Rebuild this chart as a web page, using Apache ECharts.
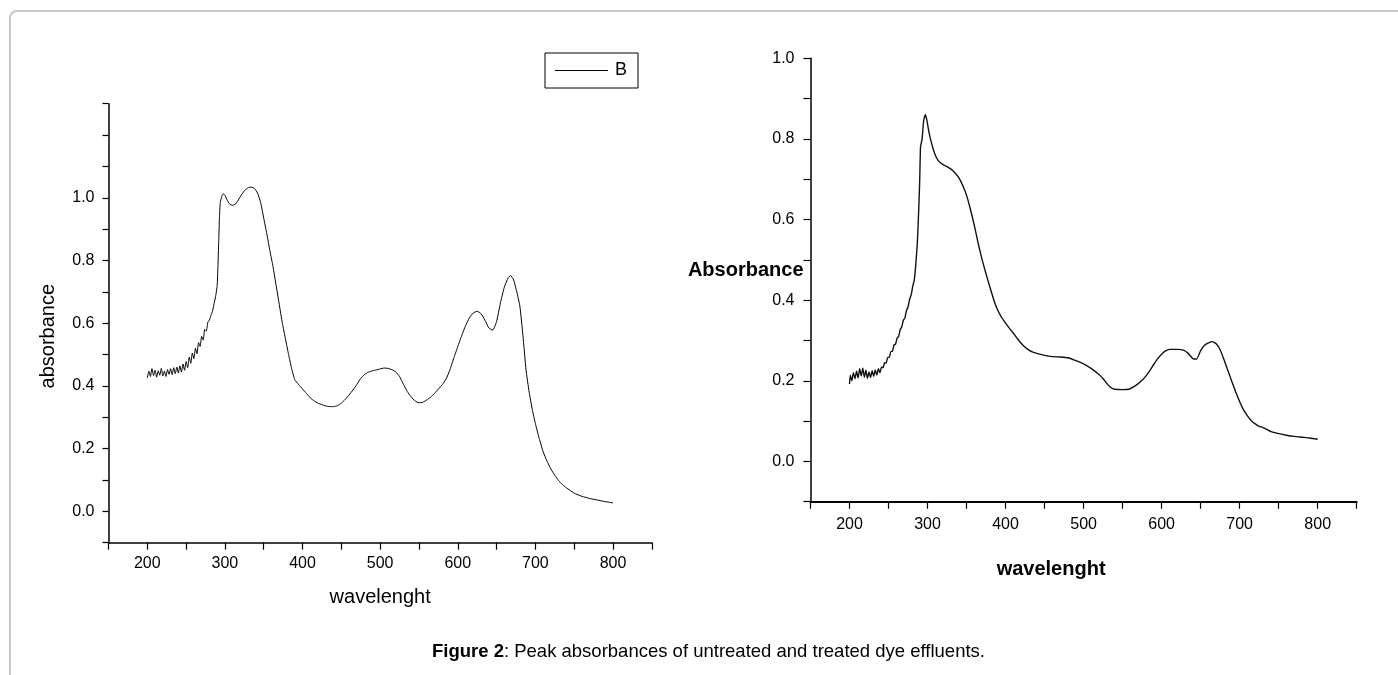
<!doctype html>
<html>
<head>
    <meta charset="utf-8">
    <title>Figure 2 - absorbance</title>
    <script src="https://cdn.jsdelivr.net/npm/echarts@6/dist/echarts.min.js"></script>
    <style>
        body { margin: 0; background: #fff; }
        #frame { position: absolute; left: 9px; top: 10px; width: 1500px; height: 800px;
                 border-left: 2px solid #c8c8c8; border-top: 2px solid #c8c8c8; border-top-left-radius: 8px; }
        #main { position: absolute; left: 0; top: 0; width: 1398px; height: 675px; }
    </style>
</head>
<body>
    <div id="frame"></div>
    <div id="main"></div>

    <script type="text/javascript">
        // untreated effluent (left panel, series "B")
        var waveB = [200,202,204,206,208,210,212,214,216,218,220,222,224,226,228,230,232,234,236,238,
            240,242,244,246,248,250,252,254,256,258,260,262,264,266,268,270,272,274,276,278,280,282,284,286,288,
            290,291,292,293,294,296,298,300,303,306,310,314,318,322,326,330,334,338,342,346,350,354,358,362,366,
            370,374,378,382,386,390,395,400,405,410,415,420,425,430,435,440,445,450,455,460,465,470,475,480,485,
            490,495,500,505,510,515,520,525,530,535,540,545,550,555,560,565,570,575,580,585,590,595,600,605,610,
            615,620,625,630,635,640,645,650,655,660,665,668,672,676,680,684,688,692,696,700,705,710,715,720,725,
            730,735,740,750,760,770,780,790,800];
        var absB = [0.425,0.447,0.430,0.455,0.433,0.450,0.428,0.448,0.434,0.456,0.432,0.447,0.430,0.452,0.437,0.455,0.436,0.458,0.439,0.460,
            0.441,0.464,0.444,0.470,0.450,0.478,0.458,0.492,0.472,0.505,0.487,0.520,0.503,0.538,0.526,0.558,0.546,0.580,0.575,0.603,0.610,0.625,0.638,0.662,0.685,
            0.720,0.780,0.860,0.940,0.985,1.005,1.013,1.008,0.992,0.980,0.976,0.981,0.996,1.012,1.025,1.032,1.034,1.030,1.015,0.985,0.935,0.885,0.830,0.780,0.720,
            0.660,0.600,0.550,0.500,0.455,0.420,0.404,0.390,0.376,0.362,0.352,0.345,0.340,0.336,0.334,0.334,0.337,0.345,0.357,0.371,0.387,0.405,0.424,0.437,0.444,
            0.448,0.451,0.454,0.457,0.456,0.452,0.445,0.430,0.405,0.382,0.365,0.352,0.346,0.348,0.355,0.364,0.376,0.390,0.404,0.422,0.452,0.490,0.525,0.560,0.592,
            0.617,0.633,0.638,0.630,0.610,0.585,0.578,0.605,0.665,0.715,0.745,0.752,0.738,0.700,0.655,0.560,0.450,0.380,0.325,0.280,0.232,0.190,0.160,0.135,0.115,
            0.098,0.085,0.075,0.058,0.048,0.041,0.036,0.031,0.027];

        // treated effluent (right panel)
        var waveT = [200,201,203,205,207,209,211,213,215,217,219,221,223,225,227,229,231,233,235,237,239,241,243,245,247,249,
            251,253,255,257,259,261,263,265,267,269,271,273,275,277,279,281,283,285,287,289,290,291,293,295,297,299,302,305,308,311,
            315,320,325,330,335,340,345,350,355,360,365,370,375,380,385,390,395,400,405,410,415,420,425,430,435,440,450,460,470,480,
            490,500,510,520,525,530,535,540,550,558,565,570,575,580,585,590,595,600,605,610,620,628,634,640,645,650,655,660,665,670,
            675,680,685,690,695,700,705,710,715,720,725,730,740,750,760,770,780,790,800];
        var absT = [0.192,0.214,0.200,0.220,0.205,0.224,0.207,0.230,0.212,0.231,0.209,0.226,0.206,0.222,0.208,0.225,0.211,0.227,0.214,0.230,0.220,0.234,0.232,0.245,0.244,0.258,
            0.258,0.273,0.273,0.289,0.291,0.306,0.310,0.327,0.334,0.350,0.356,0.374,0.383,0.402,0.413,0.434,0.450,0.490,0.545,0.640,0.700,0.780,0.800,0.845,0.860,0.848,0.815,0.790,0.770,0.755,
            0.743,0.736,0.731,0.725,0.716,0.704,0.685,0.660,0.625,0.585,0.540,0.500,0.465,0.432,0.400,0.375,0.357,0.343,0.330,0.318,0.305,0.293,0.283,0.276,0.271,0.268,0.263,0.260,0.259,0.257,
            0.250,0.242,0.230,0.215,0.205,0.193,0.183,0.179,0.178,0.179,0.186,0.193,0.201,0.212,0.226,0.241,0.255,0.266,0.274,0.278,0.278,0.276,0.268,0.255,0.254,0.275,0.288,0.294,0.297,0.292,
            0.277,0.252,0.225,0.198,0.172,0.148,0.128,0.113,0.101,0.093,0.087,0.084,0.074,0.069,0.065,0.062,0.060,0.058,0.055];

        // tick / label positions
        var xLabelVals = [200, 300, 400, 500, 600, 700, 800];
        var yLeftTicks = [-0.1, 0, 0.1, 0.2, 0.3, 0.4, 0.5, 0.6, 0.7, 0.8, 0.9, 1.0, 1.1, 1.2, 1.3];
        var yRightTicks = [-0.1, 0, 0.1, 0.2, 0.3, 0.4, 0.5, 0.6, 0.7, 0.8, 0.9, 1.0];
        var yLabelVals = [0, 0.2, 0.4, 0.6, 0.8, 1.0];

        function pairs(xs, ys) {
            var out = [];
            for (var i = 0; i < xs.length; i++) out.push([xs[i], ys[i]]);
            return out;
        }

        var font = "'Liberation Sans', Arial, sans-serif";
        var chart = echarts.init(document.getElementById('main'));

        function xAxisFor(idx, bold, lineW, gap, pad) {
            return {
                gridIndex: idx, type: 'value', min: 150, max: 850, interval: 50,
                axisLine: { onZero: false, lineStyle: { color: '#000', width: lineW } },
                axisTick: { length: 7, lineStyle: { color: '#000', width: 1.2 } },
                axisLabel: { customValues: xLabelVals, margin: bold ? 15 : 13, color: '#000', fontSize: 16, fontFamily: font },
                splitLine: { show: false },
                name: 'wavelenght', nameLocation: 'middle', nameGap: gap, nameMoveOverlap: false,
                nameTextStyle: { color: '#000', fontSize: 20, fontFamily: font,
                    fontWeight: bold ? 'bold' : 'normal', padding: pad }
            };
        }

        chart.setOption({
            animation: false,
            title: {
                left: 427, top: 637,
                text: '{b|Figure 2}: Peak absorbances of untreated and treated dye effluents.',
                textStyle: {
                    color: '#000', fontSize: 18.5, fontWeight: 'normal', fontFamily: font,
                    rich: { b: { fontWeight: 'bold', fontSize: 18.5, color: '#000', fontFamily: font } }
                }
            },
            legend: {
                data: ['B'], left: 545, top: 53, icon: 'rect',
                padding: [8.5, 11, 8.5, 10], itemWidth: 53, itemHeight: 1.2, itemGap: 5,
                borderColor: '#000', borderWidth: 1, borderRadius: 0,
                textStyle: { color: '#000', fontSize: 18, fontFamily: font, padding: [0, 0, 0, 2] }
            },
            grid: [
                { left: 108.5, top: 103.7, width: 543.3, height: 439 },
                { left: 810.5, top: 58.3, width: 546.2, height: 443.4 }
            ],
            xAxis: [
                xAxisFor(0, false, 1.5, 45, [0, 0, 0, 0]),
                xAxisFor(1, true, 2, 58, [0, 65, 0, 0])
            ],
            yAxis: [{
                gridIndex: 0, type: 'value', min: -0.1, max: 1.3,
                axisLine: { onZero: false, lineStyle: { color: '#000', width: 1.5 } },
                axisTick: { customValues: yLeftTicks, length: 6, lineStyle: { color: '#000', width: 1.2 } },
                axisLabel: { customValues: yLabelVals, margin: 14, color: '#000', fontSize: 16, fontFamily: font,
                    formatter: function (v) { return v.toFixed(1); } },
                splitLine: { show: false },
                name: 'absorbance', nameLocation: 'middle', nameGap: 50, nameMoveOverlap: false,
                nameTextStyle: { color: '#000', fontSize: 20, fontFamily: font, padding: [0, 26, 0, 0] }
            }, {
                gridIndex: 1, type: 'value', min: -0.1, max: 1.0,
                axisLine: { onZero: false, lineStyle: { color: '#000', width: 1.5 } },
                axisTick: { customValues: yRightTicks, length: 7, lineStyle: { color: '#000', width: 1.2 } },
                axisLabel: { customValues: yLabelVals, margin: 16, color: '#000', fontSize: 16, fontFamily: font,
                    formatter: function (v) { return v.toFixed(1); } },
                splitLine: { show: false },
                name: 'Absorbance', nameLocation: 'middle', nameGap: 7, nameRotate: 0, nameMoveOverlap: false,
                nameTextStyle: { color: '#000', fontSize: 20, fontWeight: 'bold', fontFamily: font,
                    align: 'right', verticalAlign: 'bottom' }
            }],
            series: [{
                name: 'B', type: 'line', xAxisIndex: 0, yAxisIndex: 0,
                symbol: 'none', smooth: 0.15,
                lineStyle: { color: '#000', width: 1 },
                itemStyle: { color: '#000' },
                data: pairs(waveB, absB)
            }, {
                name: 'treated', type: 'line', xAxisIndex: 1, yAxisIndex: 1,
                symbol: 'none', smooth: 0.15,
                lineStyle: { color: '#111', width: 1.4 },
                itemStyle: { color: '#111' },
                data: pairs(waveT, absT)
            }]
        });
    </script>
</body>
</html>
